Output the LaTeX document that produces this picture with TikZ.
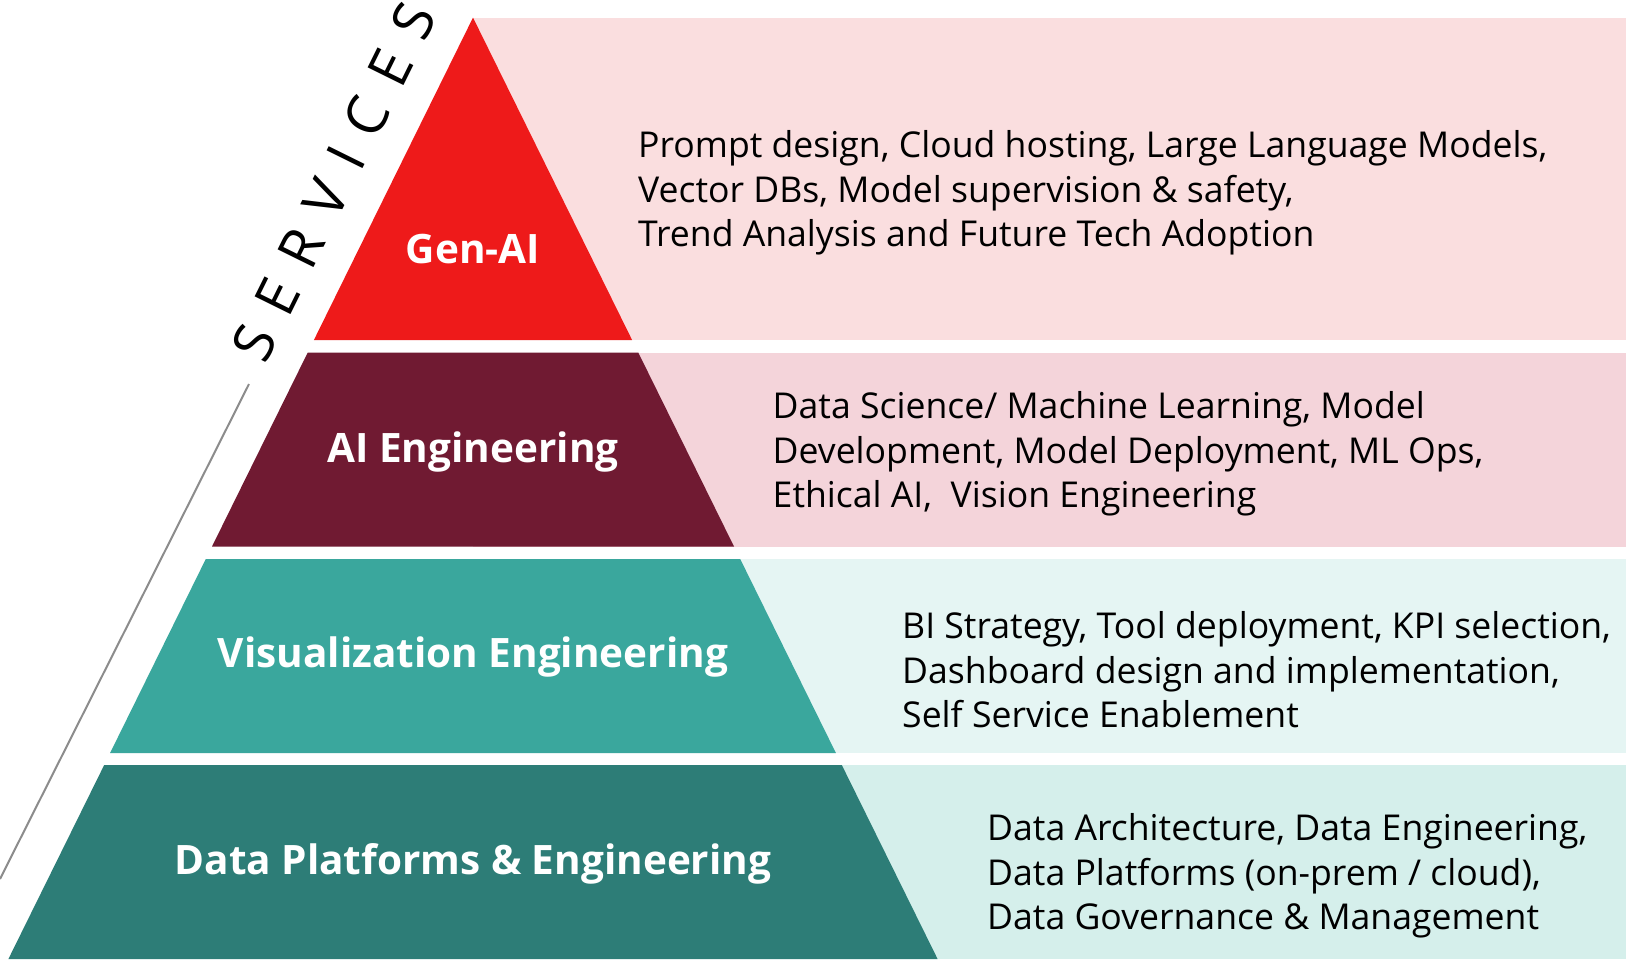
\documentclass[tikz,border=0pt]{standalone}
\usepackage{fontspec}
\setmainfont{Open Sans}
\definecolor{genai}{HTML}{EE1A1A}
\definecolor{aieng}{HTML}{701A32}
\definecolor{viseng}{HTML}{3AA79D}
\definecolor{dataeng}{HTML}{2D7D77}
\definecolor{bandA}{HTML}{FADEDF}
\definecolor{bandB}{HTML}{F4D4DA}
\definecolor{bandC}{HTML}{E5F5F3}
\definecolor{bandD}{HTML}{D5EFEB}
\tikzset{
  layerlabel/.style={text=white,font=\fontsize{40.5}{44}\selectfont\bfseries,anchor=center,inner sep=0pt},
  desc/.style={text=black,font=\fontsize{35.6}{44.6}\selectfont,anchor=west,align=left,inner sep=0pt},
  guide/.style={draw=gray!90,line width=2pt},
}
\begin{document}
\begin{tikzpicture}[x=1pt,y=-1pt]
\useasboundingbox (0,0) rectangle (1626,959);
\fill[white] (0,0) rectangle (1626,959);
% bands
\fill[bandA] (473,17.6) rectangle (1626,340);
\fill[bandB] (473,352.6) rectangle (1626,546.5);
\fill[bandC] (473,559) rectangle (1626,753);
\fill[bandD] (473,765) rectangle (1626,959);
% pyramid layers
\fill[genai] (473,17.6) -- (632.1,340) -- (313.9,340) -- cycle;
\fill[aieng] (307.7,352.6) -- (638.3,352.6) -- (734,546.5) -- (212,546.5) -- cycle;
\fill[viseng] (205.8,559) -- (740.2,559) -- (835.9,753) -- (110.1,753) -- cycle;
\fill[dataeng] (104.2,765) -- (841.8,765) -- (937.6,959) -- (8.4,959) -- cycle;
% guide line
\coordinate (gtop) at (249,384);
\coordinate (gbot) at (0,879);
\draw[guide] (gtop) -- (gbot);
% services
\node[rotate=63.7,font=\fontsize{56}{56}\selectfont,inner sep=0pt] (services) at (334,182)
  {S\hskip21pt E\hskip21pt R\hskip21pt V\hskip21pt I\hskip21pt C\hskip21pt E\hskip21pt S};
% labels
\node[layerlabel] (l1) at (473,249) {Gen-AI};
\node[layerlabel] (l2) at (473,452) {AI Engineering};
\node[layerlabel] (l3) at (473,657) {Visualization Engineering};
\node[layerlabel] (l4) at (473,864) {Data Platforms \& Engineering};
% descriptions
\node[desc] (d1) at (638,193) {Prompt design, Cloud hosting, Large Language Models,\\Vector DBs, Model supervision \& safety,\\Trend Analysis and Future Tech Adoption};
\node[desc] (d2) at (772.5,454) {Data Science/ Machine Learning, Model\\Development, Model Deployment, ML Ops,\\Ethical AI,\ \ Vision Engineering};
\node[desc] (d3) at (902,670) {BI Strategy, Tool deployment, KPI selection,\\Dashboard design and implementation,\\Self Service Enablement};
\node[desc] (d4) at (987,876) {Data Architecture, Data Engineering,\\Data Platforms (on-prem / cloud),\\Data Governance \& Management};
\end{tikzpicture}
\end{document}
